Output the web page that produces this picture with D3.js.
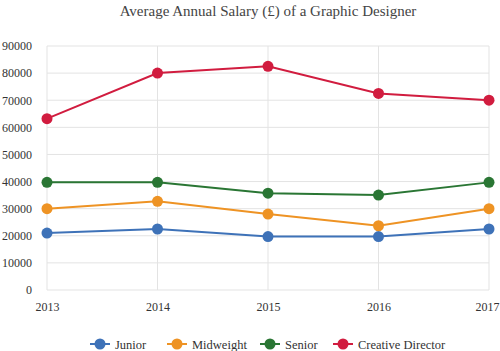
<!DOCTYPE html>
<html>
<head>
<meta charset="utf-8">
<script src="https://cdn.jsdelivr.net/npm/d3@7"></script>
</head>
<body style="margin:0;background:#fff">
<div id="chart"></div>
<script>
// data
const years = ["2013", "2014", "2015", "2016", "2017"];
const junior = [21000, 22500, 19700, 19700, 22500];
const midweight = [30000, 32700, 28000, 23700, 30000];
const senior = [39700, 39700, 35700, 35000, 39700];
const creative = [63200, 80000, 82500, 72500, 70000];
const yTicks = [0, 10000, 20000, 30000, 40000, 50000, 60000, 70000, 80000, 90000];

const series = [
    {name: "Junior", values: junior, color: "#3e72b8"},
    {name: "Midweight", values: midweight, color: "#ee9324"},
    {name: "Senior", values: senior, color: "#2a7634"},
    {name: "Creative Director", values: creative, color: "#d11c3f"}
];

const FONT = "'Liberation Serif', serif";
const width = 500, height = 351;
const margin = {top: 46, right: 11, bottom: 61, left: 47};

const svg = d3.select("#chart").append("svg")
    .attr("width", width)
    .attr("height", height);

const x = d3.scalePoint()
    .domain(years)
    .range([margin.left, width - margin.right]);

const y = d3.scaleLinear()
    .domain([0, 90000])
    .range([height - margin.bottom, margin.top]);

// title
svg.append("text")
    .attr("x", 268)
    .attr("y", 16)
    .attr("text-anchor", "middle")
    .style("font-family", FONT)
    .style("font-size", "15px")
    .attr("fill", "#444")
    .text("Average Annual Salary (£) of a Graphic Designer");

// grid
svg.append("g")
    .selectAll("line")
    .data(yTicks)
    .enter().append("line")
    .attr("x1", x.range()[0])
    .attr("x2", x.range()[1])
    .attr("y1", d => y(d))
    .attr("y2", d => y(d))
    .attr("stroke", "#e3e3e3")
    .attr("stroke-width", 1);

svg.append("g")
    .selectAll("line")
    .data(years)
    .enter().append("line")
    .attr("x1", d => x(d))
    .attr("x2", d => x(d))
    .attr("y1", y(0))
    .attr("y2", y(90000))
    .attr("stroke", "#e3e3e3")
    .attr("stroke-width", 1);

// axes
const yG = svg.append("g")
    .attr("transform", `translate(${margin.left},0)`)
    .call(d3.axisLeft(y).tickValues(yTicks).tickSize(0).tickPadding(15).tickFormat(d3.format("d")));
yG.select(".domain").remove();
yG.selectAll("text")
    .style("font-family", FONT)
    .style("font-size", "12px")
    .attr("fill", "#333");

const xG = svg.append("g")
    .attr("transform", `translate(0,${y(0)})`)
    .call(d3.axisBottom(x).tickSize(0).tickPadding(12));
xG.select(".domain").remove();
xG.selectAll("text")
    .style("font-family", FONT)
    .style("font-size", "12px")
    .attr("fill", "#333")
    .filter(d => d === years[years.length - 1])
    .attr("dx", "-2");

// lines
const line = d3.line()
    .x((d, i) => x(years[i]))
    .y(d => y(d));

const g = svg.append("g");
series.forEach(s => {
    g.append("path")
        .datum(s.values)
        .attr("fill", "none")
        .attr("stroke", s.color)
        .attr("stroke-width", 2)
        .attr("d", line);
    g.selectAll(null)
        .data(s.values)
        .enter().append("circle")
        .attr("cx", (d, i) => x(years[i]))
        .attr("cy", d => y(d))
        .attr("r", 5.5)
        .attr("fill", s.color);
});

// legend
const legendX = [90, 167, 260, 333];
const legend = svg.append("g").attr("transform", "translate(0,344)");
series.forEach((s, i) => {
    const lg = legend.append("g").attr("transform", `translate(${legendX[i]},0)`);
    lg.append("line")
        .attr("x1", 0).attr("x2", 20)
        .attr("y1", 0).attr("y2", 0)
        .attr("stroke", s.color)
        .attr("stroke-width", 2);
    lg.append("circle")
        .attr("cx", 10).attr("cy", 0).attr("r", 5.5)
        .attr("fill", s.color);
    lg.append("text")
        .attr("x", 25)
        .attr("y", 4.5)
        .style("font-family", FONT)
        .style("font-size", "12.5px")
        .attr("fill", "#333")
        .text(s.name);
});
</script>
</body>
</html>
